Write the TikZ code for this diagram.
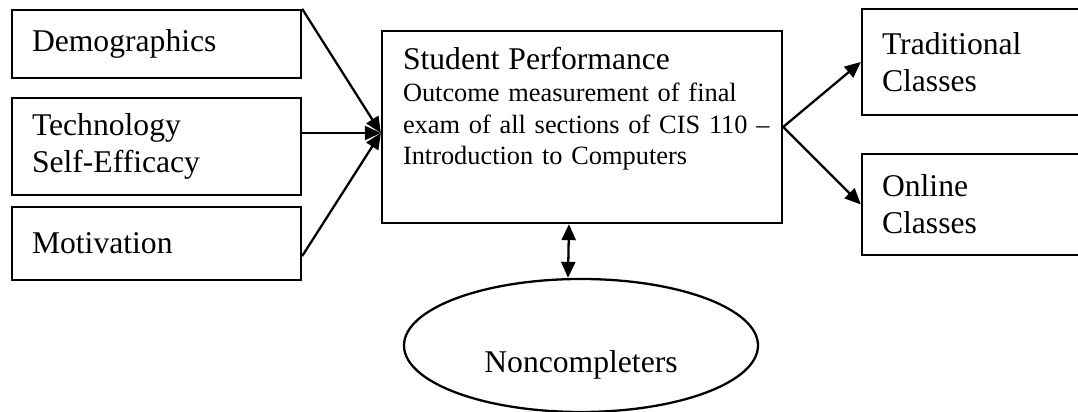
\documentclass[tikz,border=0pt]{standalone}
\usepackage{fontspec}
\setmainfont{Liberation Serif}
\usetikzlibrary{shapes,positioning,arrows.meta}
\tikzset{box/.style={rectangle,draw,line width=1.3pt,inner xsep=0.4cm,inner ysep=0pt,align=left,font=\fontsize{18}{21}\selectfont}}
\tikzset{ell/.style={ellipse,draw,line width=1.3pt,minimum width=7.08cm,minimum height=2.66cm,inner sep=0pt}}

\begin{document}
\begin{tikzpicture}[>={Triangle[length=0.32cm,width=0.28cm]},line width=1.3pt]
    \useasboundingbox (0,0) rectangle (21.56,8.24);
    \node[box,text width=4.98cm,minimum height=1.36cm] (demo)at (3.13,7.36) {Demographics};
    \node[box,text width=4.98cm,minimum height=1.94cm] (tech)at (3.13,5.31) {Technology\\Self-Efficacy};
    \node[box,text width=4.98cm,minimum height=1.46cm] (mot)at (3.13,3.37) {Motivation};
    \node[box,minimum width=8cm,minimum height=3.84cm] (sp)at (11.64,5.70) {};
    \node[anchor=north west,inner sep=0pt,align=left,text width=7.4cm,font=\fontsize{15}{18}\selectfont] (sptext)at ([xshift=0.42cm,yshift=-0.33cm]sp.north west) {{\fontsize{18}{18}\selectfont Student Performance}\\Outcome measurement of final\\exam of all sections of CIS 110 –\\Introduction to Computers};
    \node[box,text width=4.0cm,minimum height=2.12cm] (trad)at (19.64,7.00) {Traditional\\Classes};
    \node[box,text width=4.0cm,minimum height=2.02cm] (onl)at (19.64,4.15) {Online\\Classes};
    \node[ell] (nc)at (11.62,1.33) {};
    \node[font=\fontsize{18}{21}\selectfont] (nclab)at ([yshift=-0.38cm]nc.center) {Noncompleters};
    \coordinate (spin) at ([yshift=-0.12cm]sp.west);

    \draw [->] (demo.north east) -- (spin);
    \draw [->] (tech.east |- spin) -- (spin);
    \draw [->] ([yshift=0.5cm]mot.south east) -- (spin);
    \draw [->] (sp.east) -- (trad.west);
    \draw [->] (sp.east) -- (onl.west);
    \draw [<->] ([xshift=-0.26cm]sp.south) -- ([xshift=-0.26cm]nc.north);
\end{tikzpicture}
\end{document}
